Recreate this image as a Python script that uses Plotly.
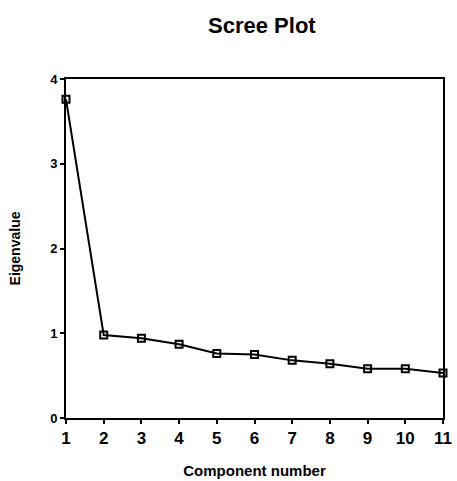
import plotly.graph_objects as go

# Scree plot of component eigenvalues
components = list(range(1, 12))
eigenvalues = [3.76, 0.98, 0.94, 0.87, 0.76, 0.75, 0.68, 0.64, 0.58, 0.58, 0.53]
x_ticks = list(range(1, 12))
y_ticks = [0, 1, 2, 3, 4]

fig = go.Figure(
    go.Scatter(
        x=components,
        y=eigenvalues,
        mode="lines+markers",
        line=dict(color="black", width=2),
        marker=dict(symbol="square-open", size=7, color="black", line=dict(width=2)),
        cliponaxis=False,
        showlegend=False,
    )
)

font_family = "Liberation Sans, Arial, sans-serif"

fig.update_layout(
    width=457,
    height=481,
    paper_bgcolor="white",
    plot_bgcolor="white",
    margin=dict(l=66, r=14, t=79, b=63),
    title=dict(
        text="<b>Scree Plot</b>",
        x=0.573,
        xanchor="center",
        y=0.947,
        yanchor="middle",
        font=dict(family=font_family, size=22, color="black"),
    ),
)

fig.update_xaxes(
    range=[1, 11],
    automargin=False,
    tickvals=x_ticks,
    ticktext=[f"<b>{v}</b>" for v in x_ticks],
    ticks="outside",
    ticklen=4,
    tickwidth=2,
    tickcolor="black",
    showgrid=False,
    zeroline=False,
    showline=True,
    linecolor="black",
    linewidth=2,
    mirror=True,
    tickfont=dict(family=font_family, size=17, color="black"),
    title=dict(
        text="<b>Component number</b>",
        font=dict(family=font_family, size=15, color="black"),
        standoff=18,
    ),
)

fig.update_yaxes(
    range=[0, 4],
    automargin=False,
    tickvals=y_ticks,
    ticktext=[f"<b>{v}</b>" for v in y_ticks],
    ticks="outside",
    ticklen=4,
    tickwidth=2,
    tickcolor="black",
    showgrid=False,
    zeroline=False,
    showline=True,
    linecolor="black",
    linewidth=2,
    mirror=True,
    tickfont=dict(family=font_family, size=13, color="black"),
    title=dict(
        text="<b>Eigenvalue</b>",
        font=dict(family=font_family, size=14, color="#000000"),
        standoff=26,
    ),
)

fig.write_html("out.html")
